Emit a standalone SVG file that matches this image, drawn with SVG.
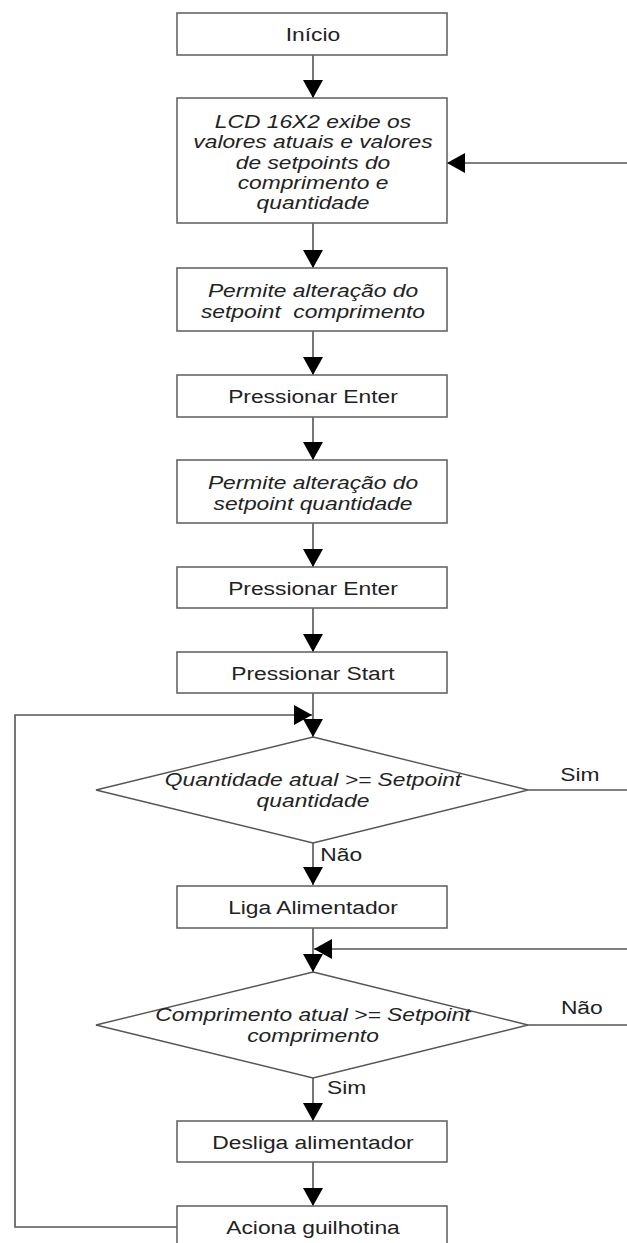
<svg xmlns="http://www.w3.org/2000/svg" width="627" height="1243" viewBox="0 0 627 1243">
<style>
.box{fill:#fff;stroke:#666;stroke-width:1.6}
.dia{fill:#fff;stroke:#555;stroke-width:1.4}
.t{font-family:"Liberation Sans",Arial,sans-serif;font-size:19px;fill:#222;text-anchor:middle}
.i{font-style:italic}
.c{fill:none;stroke:#555;stroke-width:1.6}
</style>
<defs>
<marker id="ah" viewBox="0 0 18 20" refX="18" refY="10" markerWidth="18" markerHeight="20" markerUnits="userSpaceOnUse" orient="auto">
<path d="M0,0 L18,10 L0,20 z" fill="#000"/>
</marker>
</defs>
<g id="connectors">
<path class="c" d="M313,55 V98" marker-end="url(#ah)"/>
<path class="c" d="M313,223 V268" marker-end="url(#ah)"/>
<path class="c" d="M313,331 V375" marker-end="url(#ah)"/>
<path class="c" d="M313,417 V460" marker-end="url(#ah)"/>
<path class="c" d="M313,523 V567" marker-end="url(#ah)"/>
<path class="c" d="M313,608 V652" marker-end="url(#ah)"/>
<path class="c" d="M313,693 V737" marker-end="url(#ah)"/>
<path class="c" d="M177,1227 H15 V715 H312" marker-end="url(#ah)"/>
<path class="c" d="M528,790 H640 V163 H447" marker-end="url(#ah)"/>
<path class="c" d="M313,843 V885" marker-end="url(#ah)"/>
<path class="c" d="M313,928 V972" marker-end="url(#ah)"/>
<path class="c" d="M528,1025 H640 V949 H314" marker-end="url(#ah)"/>
<path class="c" d="M313,1078 V1121" marker-end="url(#ah)"/>
<path class="c" d="M313,1162 V1206" marker-end="url(#ah)"/>
<text class="t" x="535.5" y="781" transform="matrix(1.2 0 0 1 -62.6 0)">Sim</text>
<text class="t" x="336.5" y="861" transform="matrix(1.2 0 0 1 -62.6 0)">Não</text>
<text class="t" x="537" y="1014" transform="matrix(1.2 0 0 1 -62.6 0)">Não</text>
<text class="t" x="341" y="1094" transform="matrix(1.2 0 0 1 -62.6 0)">Sim</text>
</g>
<g id="inicio">
<rect class="box" x="177" y="13" width="270" height="42"/>
<text class="t" x="313" y="41" transform="matrix(1.2 0 0 1 -62.6 0)">Início</text>
</g>
<g id="lcd">
<rect class="box" x="177" y="98" width="270" height="125"/>
<text class="t i" transform="matrix(1.2 0 0 1 -62.6 0)"><tspan x="313" y="128">LCD 16X2 exibe os</tspan><tspan x="313" y="148">valores atuais e valores</tspan><tspan x="313" y="169">de setpoints do</tspan><tspan x="313" y="189">comprimento e</tspan><tspan x="313" y="209">quantidade</tspan></text>
</g>
<g id="alt-comprimento">
<rect class="box" x="177" y="268" width="270" height="63"/>
<text class="t i" transform="matrix(1.2 0 0 1 -62.6 0)"><tspan x="313" y="297">Permite alteração do</tspan><tspan x="313" y="318">setpoint&#160; comprimento</tspan></text>
</g>
<g id="enter1">
<rect class="box" x="177" y="375" width="270" height="42"/>
<text class="t" x="313" y="403" transform="matrix(1.2 0 0 1 -62.6 0)">Pressionar Enter</text>
</g>
<g id="alt-quantidade">
<rect class="box" x="177" y="460" width="270" height="63"/>
<text class="t i" transform="matrix(1.2 0 0 1 -62.6 0)"><tspan x="313" y="489">Permite alteração do</tspan><tspan x="313" y="510">setpoint quantidade</tspan></text>
</g>
<g id="enter2">
<rect class="box" x="177" y="567" width="270" height="41"/>
<text class="t" x="313" y="595" transform="matrix(1.2 0 0 1 -62.6 0)">Pressionar Enter</text>
</g>
<g id="start">
<rect class="box" x="177" y="652" width="270" height="41"/>
<text class="t" x="313" y="680" transform="matrix(1.2 0 0 1 -62.6 0)">Pressionar Start</text>
</g>
<g id="dec-quantidade">
<polygon class="dia" points="313,737 528,790 313,843 96,790"/>
<text class="t i" transform="matrix(1.2 0 0 1 -62.6 0)"><tspan x="313" y="786">Quantidade atual &gt;= Setpoint</tspan><tspan x="313" y="807">quantidade</tspan></text>
</g>
<g id="liga">
<rect class="box" x="177" y="886" width="270" height="42"/>
<text class="t" x="313" y="914" transform="matrix(1.2 0 0 1 -62.6 0)">Liga Alimentador</text>
</g>
<g id="dec-comprimento">
<polygon class="dia" points="313,972 528,1025 313,1078 96,1025"/>
<text class="t i" transform="matrix(1.2 0 0 1 -62.6 0)"><tspan x="313" y="1021">Comprimento atual &gt;= Setpoint</tspan><tspan x="313" y="1042">comprimento</tspan></text>
</g>
<g id="desliga">
<rect class="box" x="177" y="1121" width="270" height="41"/>
<text class="t" x="313" y="1149" transform="matrix(1.2 0 0 1 -62.6 0)">Desliga alimentador</text>
</g>
<g id="aciona">
<rect class="box" x="177" y="1206" width="270" height="42"/>
<text class="t" x="313" y="1234" transform="matrix(1.2 0 0 1 -62.6 0)">Aciona guilhotina</text>
</g>
</svg>
